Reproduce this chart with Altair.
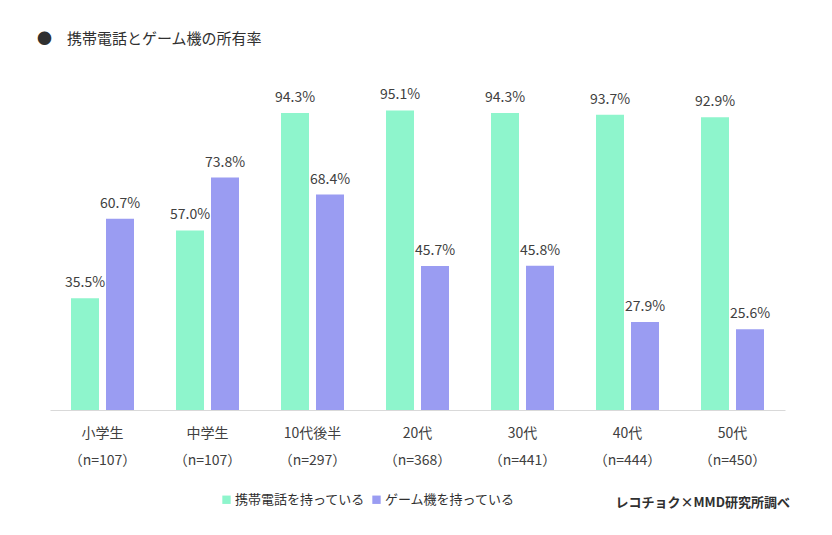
import altair as alt
import pandas as pd

categories = ["小学生\n（n=107）", "中学生\n（n=107）", "10代後半\n（n=297）", "20代\n（n=368）",
              "30代\n（n=441）", "40代\n（n=444）", "50代\n（n=450）"]
series = ["携帯電話を持っている", "ゲーム機を持っている"]
phone = [35.5, 57.0, 94.3, 95.1, 94.3, 93.7, 92.9]
game = [60.7, 73.8, 68.4, 45.7, 45.8, 27.9, 25.6]
colors = ["#8ef5cc", "#9a9cf2"]

rows = []
for c, p, g in zip(categories, phone, game):
    rows.append({"cat": c, "series": series[0], "value": p, "label": f"{p:.1f}%"})
    rows.append({"cat": c, "series": series[1], "value": g, "label": f"{g:.1f}%"})
df = pd.DataFrame(rows)

FONT = "Noto Sans CJK JP"

base = alt.Chart(df).encode(
    x=alt.X("cat:N", sort=categories, title=None,
            scale=alt.Scale(paddingInner=0.4, paddingOuter=0.2),
            axis=alt.Axis(labelExpr="split(datum.label, '\\n')", labelAngle=0,
                          labelFontSize=14, labelColor="#404040", labelFont=FONT,
                          labelLineHeight=27, labelPadding=16, ticks=False,
                          domainColor="#d9d9d9", domainWidth=1)),
    xOffset=alt.XOffset("series:N", sort=series,
                        scale=alt.Scale(paddingInner=0.2, paddingOuter=0)),
    y=alt.Y("value:Q", scale=alt.Scale(domain=[0, 100]), axis=None),
)

bars = base.mark_bar().encode(
    color=alt.Color("series:N", sort=series,
                    scale=alt.Scale(domain=series, range=colors),
                    legend=alt.Legend(title=None, orient="none", direction="horizontal",
                                      legendX=170, legendY=398, symbolType="square",
                                      symbolSize=70, symbolStrokeWidth=0,
                                      labelFontSize=13, labelFont=FONT,
                                      labelColor="#303030", columnPadding=4,
                                      symbolOffset=0, labelOffset=2))
)

texts = base.mark_text(baseline="bottom", dy=-8, fontSize=14, font=FONT,
                       color="#404040").encode(text="label:N")

credit = alt.Chart(pd.DataFrame({"t": ["レコチョク×MMD研究所調べ"]})).mark_text(
    align="right", baseline="middle", fontSize=13, font=FONT, fontWeight="bold",
    color="#303030"
).encode(text="t:N", x=alt.value(740), y=alt.value(408))

chart = alt.layer(bars, texts, credit).properties(
    width=735, height=315,
    title=alt.TitleParams("●　携帯電話とゲーム機の所有率", anchor="start", dx=-13,
                          offset=41, fontSize=15, font=FONT, fontWeight="normal",
                          color="#303030"),
    autosize=alt.AutoSizeParams(type="none"),
    padding={"left": 42, "top": 87, "right": 30, "bottom": 100},
).configure_view(stroke=None)

chart.save("out.html", embed_options={"renderer": "svg", "actions": False})
